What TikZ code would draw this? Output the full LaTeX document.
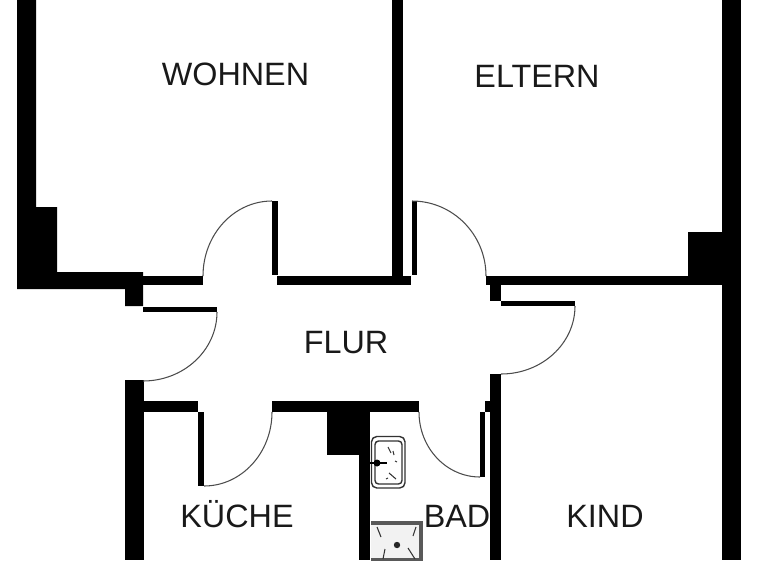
\documentclass[tikz,border=0pt]{standalone}
\usepackage{fontspec}
\setmainfont{Liberation Sans}
\tikzset{wall/.style={fill=black}}
\tikzset{leaf/.style={fill=black}}
\tikzset{swing/.style={color=black!70,line width=.6pt}}
\tikzset{room/.style={font=\fontsize{18.4}{20}\selectfont,text=black!90,inner sep=0pt,anchor=base}}
\tikzset{fixture/.style={color=black!80,line width=.8pt}}
\tikzset{speck/.style={color=black!80,line width=.6pt}}

\begin{document}
\begin{tikzpicture}[x=1pt,y=1pt,scale=.5692,yscale=-1]
  \useasboundingbox (0,0) rectangle (768,560);

  % outer walls
  \fill[wall] (17,0) -- (36,0) -- (36,207) -- (57,207) -- (57,272) -- (143,272) -- (143,306)
    -- (125,306) -- (125,289) -- (17,289) -- cycle;
  \fill[wall] (722,0) rectangle (741,560);
  \fill[wall] (688,232) rectangle (722,285);
  \fill[wall] (125,380) rectangle (144,560);

  % walls along the hall
  \fill[wall] (143,276) rectangle (203,285);
  \fill[wall] (277,276) rectangle (411,285);
  \fill[wall] (392,0) rectangle (403,276);
  \fill[wall] (486,276) rectangle (722,285);
  \fill[wall] (490,285) rectangle (501,301);
  \fill[wall] (144,401) rectangle (198,412);
  \fill[wall] (272,401) rectangle (419,412);
  \fill[wall] (327,401) rectangle (370,455);
  \fill[wall] (359,455) rectangle (370,560);
  \fill[wall] (490,374) rectangle (501,560);
  \fill[wall] (485,401) rectangle (490,412);

  % doors
  \fill[leaf] (143,307) rectangle (217,312);
  \draw[swing] (217,312) arc (0:90:74pt and 69pt);
  \fill[leaf] (272,201) rectangle (278,275);
  \draw[swing] (203,276) arc (180:270:69pt and 75pt);
  \fill[leaf] (412,201) rectangle (417,275);
  \draw[swing] (412,201) arc (270:360:74pt and 75pt);
  \fill[leaf] (501,301) rectangle (575,306);
  \draw[swing] (575,306) arc (0:90:74pt and 68pt);
  \fill[leaf] (198,412) rectangle (204,486);
  \draw[swing] (272,412) arc (0:90:68pt and 74pt);
  \fill[leaf] (480,412) rectangle (485,477);
  \draw[swing] (419,412) arc (180:90:61pt and 65pt);

  % basin
  \draw[fixture,rounded corners=3pt] (371.5,436.5) rectangle (405,488);
  \draw[fixture,rounded corners=2pt] (375,441) rectangle (402,484);
  \draw[line width=1.2pt] (370,463) -- (387,463);
  \fill (377,463) circle (3.5pt);
  \draw[speck] (388,447) -- (391,453);
  \draw[speck] (393,451) -- (394,455);
  \draw[speck] (395,461) -- (397,462);
  \draw[speck] (389,473) -- (396,479);
  \draw[speck] (386,479) -- (388,478);

  % shower
  \filldraw[fill=black!5,draw=black!65,line width=2.4pt] (371,523) -- (421,523) -- (421,560) -- (371,560);
  \draw[speck] (377,527) -- (381,537);
  \draw[speck] (416,527) -- (413,536);
  \draw[speck] (385,549) -- (383,559);
  \draw[speck] (408,548) -- (415,559);
  \fill[black!85] (397,545) circle (3.2pt);

  \node[room] (wohnen) at (235.5,85) {WOHNEN};
  \node[room] (eltern) at (537,87) {ELTERN};
  \node[room] (flur) at (346,353) {FLUR};
  \node[room] (kueche) at (237,527) {KÜCHE};
  \node[room] (bad) at (457,527) {BAD};
  \node[room] (kind) at (605,527) {KIND};
\end{tikzpicture}
\end{document}
